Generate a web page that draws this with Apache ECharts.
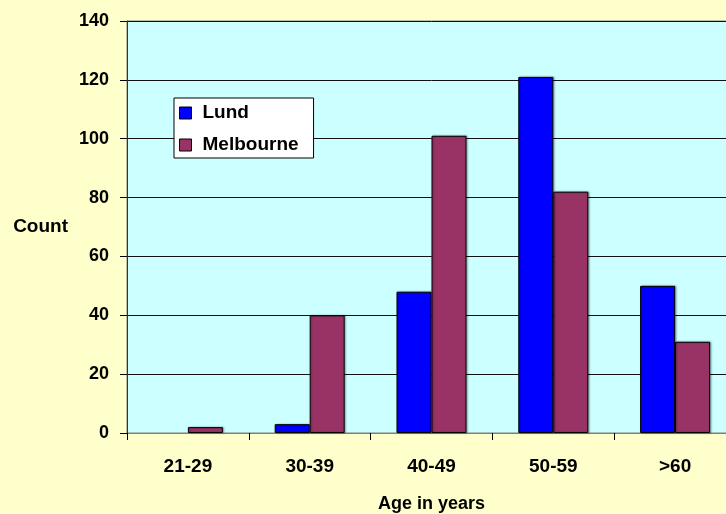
<!DOCTYPE html>
<html>
<head>
<meta charset="utf-8">
<style>
  html, body { margin: 0; padding: 0; overflow: hidden; background: #FFFFCC; }
  #chart { width: 740px; height: 514px; }
</style>
<script src="https://cdn.jsdelivr.net/npm/echarts@6/dist/echarts.min.js"></script>
</head>
<body>
<div id="chart"></div>
<script>
// Age groups and case counts per cohort
const ageGroups = ['21-29', '30-39', '40-49', '50-59', '>60'];
const lundCounts = [0, 3, 48, 121, 50];
const melbourneCounts = [2, 40, 101, 82, 31];
const countTicks = { min: 0, max: 140, interval: 20 };

const FONT = '"Liberation Sans", Arial, sans-serif';
const chart = echarts.init(document.getElementById('chart'), null, { renderer: 'canvas' });

const barStyle = (color) => ({
  color: color,
  borderColor: '#000',
  borderWidth: 1,
  shadowColor: 'rgba(0,0,0,0.35)',
  shadowBlur: 2,
  shadowOffsetX: 1,
  shadowOffsetY: 0
});

// Zero-height bars get no outline so nothing shows for an empty group
const barData = (values) => values.map(v =>
  v === 0 ? { value: v, itemStyle: { borderWidth: 0, shadowBlur: 0, shadowOffsetX: 0 } } : v);

chart.setOption({
  backgroundColor: '#FFFFCC',
  animation: false,
  textStyle: { fontFamily: FONT },
  grid: {
    left: 127, top: 21, right: 4, bottom: 81,
    outerBoundsMode: 'none',
    containLabel: false,
    show: true,
    backgroundColor: '#CCFFFF',
    borderColor: '#808080',
    borderWidth: 1
  },
  legend: {
    orient: 'vertical',
    left: 174, top: 98,
    backgroundColor: '#FFFFFF',
    borderColor: '#000',
    borderWidth: 1,
    borderRadius: 0,
    padding: [5, 15, 3, 5],
    itemWidth: 12, itemHeight: 12,
    itemGap: 12,
    icon: 'rect',
    itemStyle: { borderColor: '#000', borderWidth: 1, shadowBlur: 0, shadowOffsetX: 0 },
    textStyle: {
      fontFamily: FONT, fontSize: 19, fontWeight: 'bold', color: '#000',
      lineHeight: 20, padding: [0, 0, 0, 6]
    },
    data: ['Lund', 'Melbourne']
  },
  xAxis: {
    type: 'category',
    data: ageGroups,
    name: 'Age in years',
    nameLocation: 'middle',
    nameGap: 62,
    nameTextStyle: { fontFamily: FONT, fontSize: 18, fontWeight: 'bold', color: '#000' },
    axisLine: { lineStyle: { color: '#808080', width: 1 } },
    axisTick: { show: true, length: 7, alignWithLabel: false, lineStyle: { color: '#000' } },
    axisLabel: { margin: 24, fontFamily: FONT, fontSize: 19, fontWeight: 'bold', color: '#000' },
    splitLine: { show: false }
  },
  yAxis: {
    type: 'value',
    min: countTicks.min, max: countTicks.max, interval: countTicks.interval,
    name: 'Count',
    nameLocation: 'middle',
    nameRotate: 0,
    nameGap: 59,
    nameTextStyle: { fontFamily: FONT, fontSize: 19, fontWeight: 'bold', color: '#000' },
    axisLine: { show: true, lineStyle: { color: '#333', width: 1 } },
    axisTick: { show: true, length: 7, lineStyle: { color: '#000' } },
    axisLabel: { margin: 18, fontFamily: FONT, fontSize: 18, fontWeight: 'bold', color: '#000' },
    splitLine: { show: true, lineStyle: { color: '#111', width: 1 } }
  },
  series: [
    {
      name: 'Lund', type: 'bar', data: barData(lundCounts),
      barWidth: 35, barGap: '0%',
      itemStyle: barStyle('#0000FF')
    },
    {
      name: 'Melbourne', type: 'bar', data: barData(melbourneCounts),
      barWidth: 35, barGap: '0%',
      itemStyle: barStyle('#993366')
    }
  ]
});
</script>
</body>
</html>
